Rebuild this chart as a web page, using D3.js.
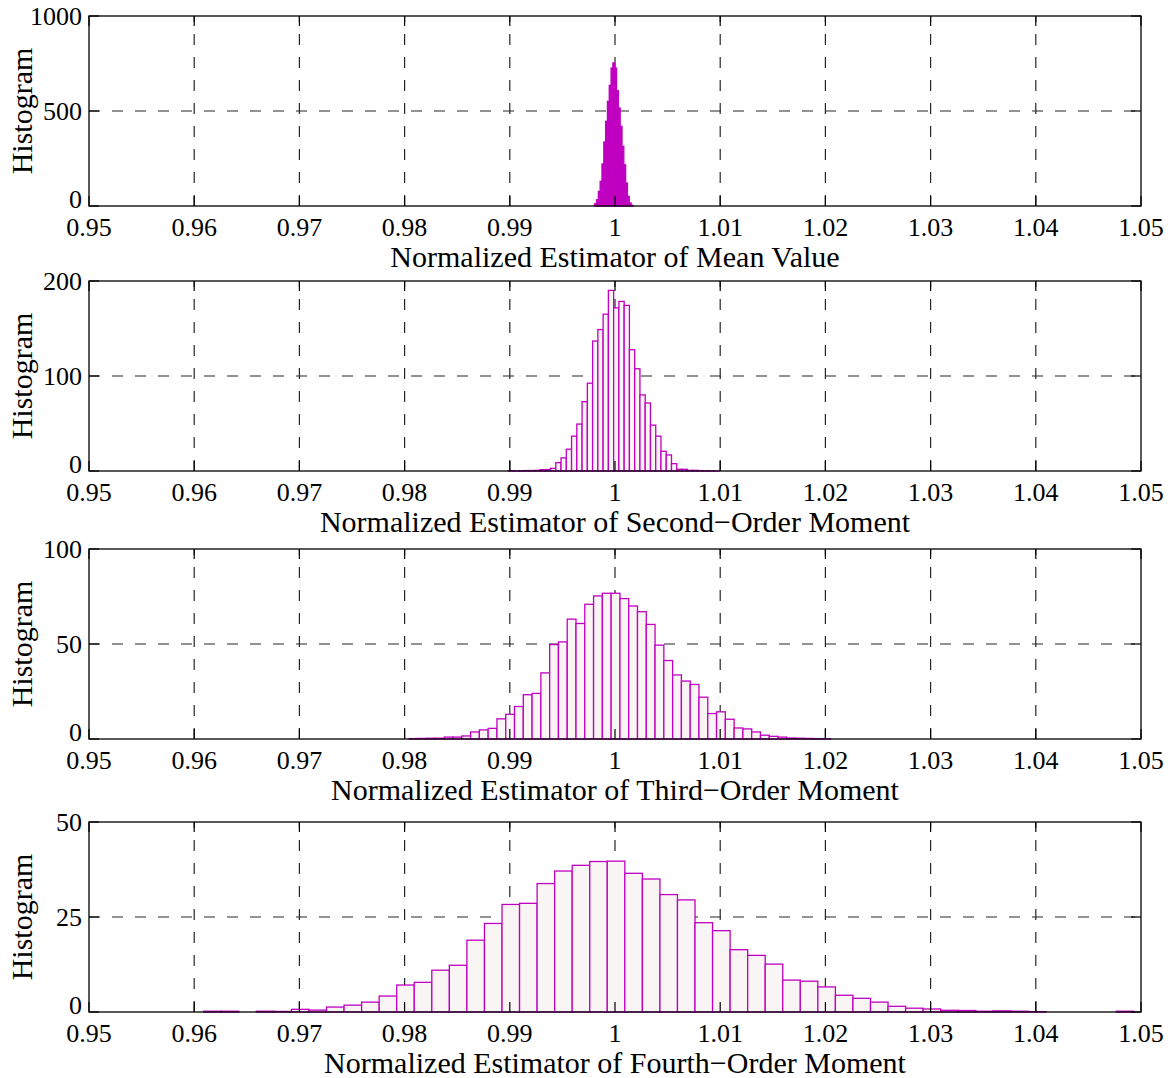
<!DOCTYPE html>
<html>
<head>
<meta charset="utf-8">
<script src="https://cdn.jsdelivr.net/npm/d3@7"></script>
<style>
  html, body { margin: 0; padding: 0; background: #fff; }
  svg { display: block; }
  text { font-family: "Liberation Serif", "Times New Roman", serif; fill: #000; }
</style>
</head>
<body>
<svg id="chart" width="1174" height="1078"></svg>
<script>
// ---------- data ----------
const xTickValues = [0.95, 0.96, 0.97, 0.98, 0.99, 1.00, 1.01, 1.02, 1.03, 1.04, 1.05];
const xTickLabels = ["0.95", "0.96", "0.97", "0.98", "0.99", "1", "1.01", "1.02", "1.03", "1.04", "1.05"];

const titles = [
  "Normalized Estimator of Mean Value",
  "Normalized Estimator of Second\u2212Order Moment",
  "Normalized Estimator of Third\u2212Order Moment",
  "Normalized Estimator of Fourth\u2212Order Moment"
];
const yLabel = "Histogram";

const yTicks1 = [0, 500, 1000];
const yTicks2 = [0, 100, 200];
const yTicks3 = [0, 50, 100];
const yTicks4 = [0, 25, 50];

// histogram bins: first bin edge, bin width, bin heights
const mean_start = 0.99807, mean_width = 0.000173;
const mean_counts = [12, 33, 77, 130, 221, 337, 446, 551, 635, 726, 753, 726, 607, 516, 419, 314, 217, 121, 51, 16, 4];

const m2_start = 0.989871, m2_width = 0.0005;
const m2_counts = [0.2, 0.2, 0.3, 0.5, 0.5, 0.6,
  1.4, 1.5, 2.8, 8.8, 13.8, 23.0, 36.7, 49.4, 73.0, 92.4, 136.8, 148.9, 165.1, 190.1,
  171.7, 178.5, 174.3, 127.7, 107.6, 80.1, 71.6, 48.3, 36.7, 20.8, 16.9, 7.7, 1.8, 1.8,
  0.7, 0.7, 0.4, 0.3, 0.2, 0.1];

const m3_start = 0.980428, m3_width = 0.000835;
const m3_counts = [0.2, 0.3, 0.4, 0.4, 1.0, 1.0, 1.6, 3.7, 4.8, 5.6, 10.6, 13.0, 17.1, 23.3, 24.0,
  34.8, 49.7, 51.1, 63.1, 60.8, 70.9, 75.3, 76.7, 76.7, 73.9, 70.0, 67.0, 60.3, 49.4, 41.3,
  33.7, 30.5, 28.7, 22.0, 13.4, 14.3, 10.4, 5.8, 5.3, 3.7, 2.0, 1.4, 1.0, 0.5, 0.4, 0.3, 0.2, 0.1];

const m4_start = 0.960903, m4_width = 0.001668;
const m4_counts = [0.2, 0.2, 0, 0.2, 0.15, 0.7, 0.5, 1.3, 1.8, 2.6, 4.2, 7.1, 7.8, 11.0, 12.3,
  18.9, 23.3, 28.3, 28.6, 33.8, 37.1, 38.6, 39.6, 39.7, 36.5, 35.0, 30.9, 29.5, 23.5, 21.4,
  16.4, 14.9, 12.6, 8.4, 8.1, 6.6, 4.4, 3.6, 2.6, 1.5, 1.0, 0.8, 0.45, 0.4, 0.2, 0.3, 0.2, 0.1,
  0, 0, 0, 0, 0.2];

// ---------- layout ----------
const svg = d3.select("#chart");
const left = 89, right = 1141;
const tops = [16, 281, 549, 822];
const plotH = 190;
const tickFont = 26;
const labelFont = 30;
const barStroke = "#c000c0";
const barFill = "#f9f5f5";

const panels = [
  { start: mean_start, width: mean_width, counts: mean_counts, ticks: yTicks1, fill: barStroke },
  { start: m2_start, width: m2_width, counts: m2_counts, ticks: yTicks2, fill: barFill },
  { start: m3_start, width: m3_width, counts: m3_counts, ticks: yTicks3, fill: barFill },
  { start: m4_start, width: m4_width, counts: m4_counts, ticks: yTicks4, fill: barFill }
];

const x = d3.scaleLinear().domain([0.95, 1.05]).range([left, right]);

panels.forEach((p, i) => {
  const top = tops[i], bottom = top + plotH;
  const ymax = p.ticks[p.ticks.length - 1];
  const y = d3.scaleLinear().domain([0, ymax]).range([bottom, top]);
  const g = svg.append("g");

  // grid
  const grid = g.append("g").attr("stroke", "#262626").attr("stroke-width", 1.2)
    .attr("stroke-dasharray", "11,12").attr("fill", "none");
  grid.selectAll("line.vx").data(xTickValues.slice(1, -1)).join("line")
    .attr("x1", d => x(d)).attr("x2", d => x(d)).attr("y1", bottom).attr("y2", top);
  grid.selectAll("line.hy").data(p.ticks.slice(1, -1)).join("line")
    .attr("x1", left).attr("x2", right).attr("y1", d => y(d)).attr("y2", d => y(d));

  // bars
  const bins = p.counts.map((c, k) => ({ x0: p.start + k * p.width, x1: p.start + (k + 1) * p.width, v: c }));
  g.append("g").selectAll("rect").data(bins).join("rect")
    .attr("x", d => x(d.x0))
    .attr("width", d => x(d.x1) - x(d.x0))
    .attr("y", d => y(d.v))
    .attr("height", d => y(0) - y(d.v))
    .attr("fill", p.fill)
    .attr("stroke", barStroke)
    .attr("stroke-width", 1.3);

  // box
  g.append("rect").attr("x", left).attr("y", top).attr("width", right - left).attr("height", plotH)
    .attr("fill", "none").attr("stroke", "#000").attr("stroke-width", 1.3);

  // inside ticks
  const tl = 10;
  const tk = g.append("g").attr("stroke", "#000").attr("stroke-width", 1.2);
  tk.selectAll("line.b").data(xTickValues).join("line").attr("class", "b")
    .attr("x1", d => x(d)).attr("x2", d => x(d)).attr("y1", bottom).attr("y2", bottom - tl);
  tk.selectAll("line.t").data(xTickValues).join("line").attr("class", "t")
    .attr("x1", d => x(d)).attr("x2", d => x(d)).attr("y1", top).attr("y2", top + tl);
  tk.selectAll("line.l").data(p.ticks).join("line").attr("class", "l")
    .attr("x1", left).attr("x2", left + tl).attr("y1", d => y(d)).attr("y2", d => y(d));
  tk.selectAll("line.r").data(p.ticks).join("line").attr("class", "r")
    .attr("x1", right).attr("x2", right - tl).attr("y1", d => y(d)).attr("y2", d => y(d));

  // x tick labels
  g.append("g").selectAll("text").data(xTickValues).join("text")
    .attr("x", d => x(d)).attr("y", bottom + 30)
    .attr("text-anchor", "middle").attr("font-size", tickFont)
    .text((d, k) => xTickLabels[k]);

  // y tick labels
  g.append("g").selectAll("text").data(p.ticks).join("text")
    .attr("x", left - 7).attr("y", d => y(d) - (d === 0 ? 7 : 0))
    .attr("dy", "0.35em")
    .attr("text-anchor", "end").attr("font-size", tickFont)
    .text(d => d);

  // x title
  g.append("text").attr("x", (left + right) / 2).attr("y", bottom + 61)
    .attr("text-anchor", "middle").attr("font-size", labelFont).text(titles[i]);

  // y title
  g.append("text").attr("transform", `translate(32,${(top + bottom) / 2}) rotate(-90)`)
    .attr("text-anchor", "middle").attr("font-size", labelFont).text(yLabel);
});
</script>
</body>
</html>
